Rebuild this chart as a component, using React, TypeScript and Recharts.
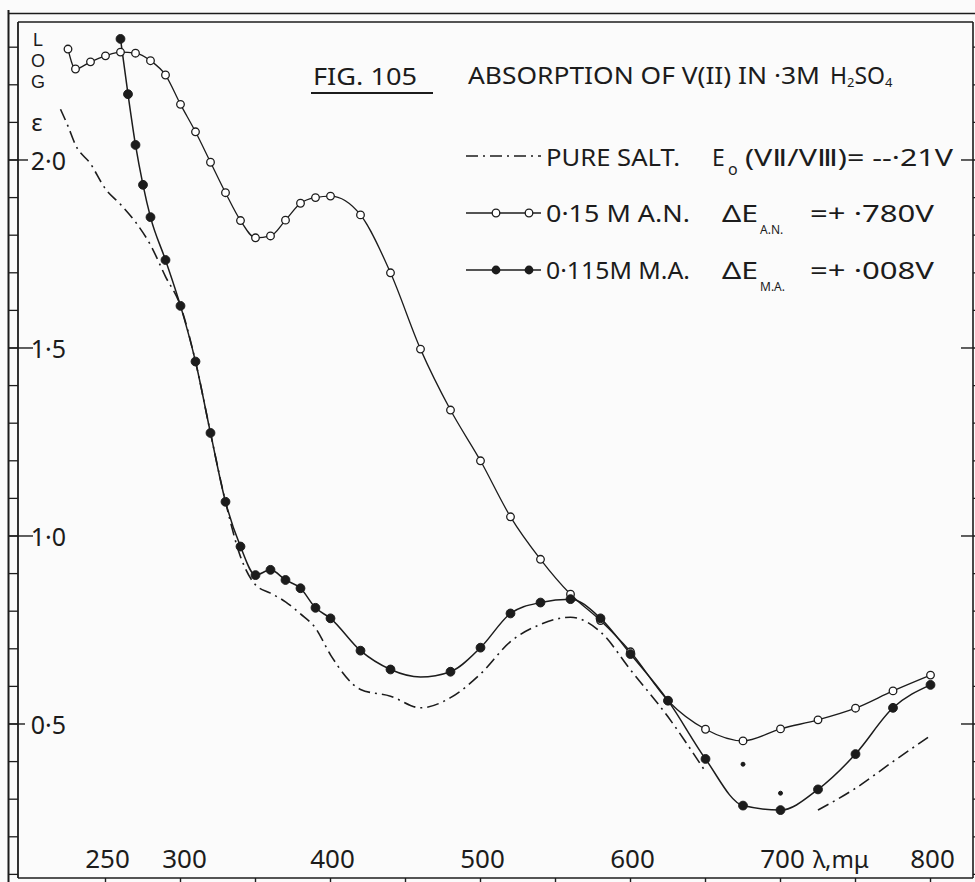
import React from 'react';
import { LineChart, Line, XAxis, YAxis } from 'recharts';

// ---------- data ----------
const xTicks = [250, 300, 350, 400, 450, 500, 550, 600, 650, 700, 750, 800];
const xTickLabels = [250, 300, 400, 500, 600, 700, 800];
const yTicks = [0.1, 0.2, 0.3, 0.4, 0.5, 0.6, 0.7, 0.8, 0.9, 1.0, 1.1, 1.2, 1.3, 1.4, 1.5, 1.6, 1.7, 1.8, 1.9, 2.0, 2.1, 2.2, 2.3];
const yTickLabels = [0.5, 1.0, 1.5, 2.0];
const yTickLabelText = ['0·5', '1·0', '1·5', '2·0'];

// 0·15 M A.N. (open circles)
const anWl = [225, 230, 240, 250, 260, 270, 280, 290, 300, 310, 320, 330, 340, 350, 360, 370, 380, 390, 400, 420, 440, 460, 480, 500, 520, 540, 560, 580, 600, 625, 650, 675, 700, 725, 750, 775, 800];
const anVal = [2.295, 2.242, 2.261, 2.277, 2.287, 2.284, 2.264, 2.226, 2.148, 2.075, 1.994, 1.913, 1.839, 1.793, 1.798, 1.84, 1.885, 1.9, 1.904, 1.854, 1.7, 1.497, 1.335, 1.2, 1.051, 0.938, 0.845, 0.775, 0.692, 0.562, 0.486, 0.455, 0.487, 0.511, 0.542, 0.588, 0.63];

// 0·115M M.A. (filled circles)
const maWl = [260, 265, 270, 275, 280, 290, 300, 310, 320, 330, 340, 350, 360, 370, 380, 390, 400, 420, 440, 460, 480, 500, 520, 540, 560, 580, 600, 625, 650, 675, 700, 725, 750, 775, 800];
const maVal = [2.322, 2.175, 2.04, 1.934, 1.848, 1.734, 1.612, 1.464, 1.274, 1.091, 0.972, 0.896, 0.91, 0.883, 0.861, 0.809, 0.781, 0.695, 0.645, 0.625, 0.639, 0.703, 0.794, 0.823, 0.832, 0.781, 0.686, 0.562, 0.407, 0.283, 0.271, 0.326, 0.42, 0.543, 0.604];
const maNoMarker = [460];

// pure salt (dash-dot)
const pureWl = [220, 225, 230, 240, 250, 260, 270, 280, 290, 300, 310, 320, 330, 340, 350, 360, 370, 380, 390, 400, 420, 440, 460, 480, 500, 520, 540, 560, 580, 600, 625, 650, 675, 700, 725, 750, 775, 800];
const pureVal: (number | null)[] = [2.135, 2.09, 2.04, 1.99, 1.923, 1.882, 1.835, 1.774, 1.69, 1.612, 1.464, 1.274, 1.091, 0.945, 0.87, 0.848, 0.825, 0.793, 0.755, 0.684, 0.592, 0.574, 0.543, 0.57, 0.633, 0.719, 0.765, 0.784, 0.745, 0.644, 0.519, 0.373, null, null, 0.271, 0.329, 0.4, 0.469];
const pureDotWl = [675, 700];
const pureDotVal = [0.393, 0.316];

const anData = anWl.map((x, i) => ({ x, y: anVal[i] }));
const maData = maWl.map((x, i) => ({ x, y: maVal[i], hidden: maNoMarker.includes(x) }));
const pureData = pureWl.map((x, i) => ({ x, y: pureVal[i] }));
const pureDotData = pureDotWl.map((x, i) => ({ x, y: pureDotVal[i] }));

// ---------- styling ----------
const W = 975;
const H = 882;
const INK = '#1c1c1c';
const FONT = "'Noto Sans', 'DejaVu Sans', sans-serif";
const X_DOMAIN: [number, number] = [191.67, 828.33];
const Y_DOMAIN: [number, number] = [0.0904, 2.367];
const PLOT_LEFT = 18;
const PLOT_RIGHT = 973;
const PLOT_BOTTOM = 878;

const BottomTick = (props: any) => {
  const { x, payload } = props;
  if (!xTickLabels.includes(payload.value)) return <g />;
  return (
    <text x={x + (payload.value === 300 ? 4 : 2)} y={PLOT_BOTTOM - 20} textAnchor="middle" dominantBaseline="central"
      fontFamily={FONT} fontSize={26} fill={INK}>
      {payload.value}
    </text>
  );
};

const LeftTick = (props: any) => {
  const { y, payload } = props;
  const i = yTickLabels.indexOf(payload.value);
  if (i < 0) return <g />;
  const tickEnd = i === 1 || i === 2 ? 33 : i === 0 ? 25 : 28;
  return (
    <g>
      <line x1={PLOT_LEFT - 10} x2={tickEnd} y1={y} y2={y} stroke={INK} strokeWidth={1.4} />
      <text x={66} y={y} textAnchor="end" dominantBaseline="central" fontFamily={FONT} fontSize={25} fill={INK}>
        {yTickLabelText[i]}
      </text>
    </g>
  );
};

const RightTick = (props: any) => {
  const { y, payload } = props;
  if (!yTickLabels.includes(payload.value)) return <g />;
  return <line x1={PLOT_RIGHT - 12} x2={PLOT_RIGHT} y1={y} y2={y} stroke={INK} strokeWidth={1.4} />;
};

const maDot = (props: any) => {
  const { cx, cy, payload, index } = props;
  if (cx == null || cy == null || payload.hidden) return <g key={`ma-${index}`} />;
  return <circle key={`ma-${index}`} cx={cx} cy={cy} r={4.4} fill={INK} stroke={INK} strokeWidth={1} />;
};

const Legend = () => {
  const t = { fontFamily: FONT, fontSize: 23, fill: INK, lengthAdjust: 'spacingAndGlyphs' } as const;
  const sub = { fontFamily: FONT, fontSize: 12, fill: INK } as const;
  const logFont = { fontFamily: "'Liberation Sans', Arial, sans-serif", fontSize: 18, fill: INK } as const;
  return (
    <svg width={W} height={H} style={{ position: 'absolute', left: 0, top: 0, pointerEvents: 'none' }}>
      {/* outer frame lines */}
      <line x1={8.5} y1={10} x2={8.5} y2={H} stroke={INK} strokeWidth={2} />
      <line x1={8} y1={13.5} x2={W} y2={13.5} stroke={INK} strokeWidth={1.6} />
      {/* LOG epsilon */}
      <text x={38} y={40} textAnchor="middle" dominantBaseline="central" {...logFont}>L</text>
      <text x={38} y={61} textAnchor="middle" dominantBaseline="central" {...logFont}>O</text>
      <text x={38} y={82} textAnchor="middle" dominantBaseline="central" {...logFont}>G</text>
      <text x={37} y={121} textAnchor="middle" dominantBaseline="central" fontFamily={FONT} fontSize={24} fill={INK}>ε</text>

      {/* title */}
      <text x={313} y={75} dominantBaseline="central" {...t} fontSize={24} textLength={104}>FIG. 105</text>
      <line x1={311} y1={93} x2={433} y2={93} stroke={INK} strokeWidth={2.2} />
      <text x={468} y={75} dominantBaseline="central" {...t} textLength={352}>ABSORPTION OF V(II) IN ·3M</text>
      <text x={830} y={75} dominantBaseline="central" fontFamily={FONT} fontSize={23} fill={INK}>
        H<tspan fontSize={13} dy={7}>2</tspan><tspan dy={-7}>SO</tspan><tspan fontSize={13} dy={7}>4</tspan>
      </text>

      {/* row 1: pure salt */}
      <line x1={466} y1={156} x2={541} y2={156} stroke={INK} strokeWidth={1.6} strokeDasharray="12 5 2 5" />
      <text x={546} y={157} dominantBaseline="central" {...t} textLength={134}>PURE SALT.</text>
      <text x={712} y={157} dominantBaseline="central" {...t}>E</text>
      <text x={728} y={169} dominantBaseline="central" fontFamily={FONT} fontSize={16} fill={INK}>o</text>
      <text x={745} y={157} dominantBaseline="central" {...t} textLength={208}>(VⅡ/VⅢ)= --·21V</text>

      {/* row 2: A.N. */}
      <line x1={466} y1={213} x2={541} y2={213} stroke={INK} strokeWidth={1.3} />
      <circle cx={496} cy={213} r={3.8} fill="#fff" stroke={INK} strokeWidth={1.3} />
      <circle cx={529} cy={213} r={3.8} fill="#fff" stroke={INK} strokeWidth={1.3} />
      <text x={546} y={213} dominantBaseline="central" {...t} textLength={144}>0·15 M  A.N.</text>
      <text x={722} y={213} dominantBaseline="central" {...t} textLength={36}>ΔE</text>
      <text x={760} y={229} dominantBaseline="central" {...sub}>A.N.</text>
      <text x={810} y={213} dominantBaseline="central" {...t} textLength={124}>=+ ·780V</text>

      {/* row 3: M.A. */}
      <line x1={466} y1={270} x2={541} y2={270} stroke={INK} strokeWidth={1.3} />
      <circle cx={496} cy={270} r={4.4} fill={INK} />
      <circle cx={529} cy={270} r={4.4} fill={INK} />
      <text x={546} y={270} dominantBaseline="central" {...t} textLength={144}>0·115M  M.A.</text>
      <text x={722} y={270} dominantBaseline="central" {...t} textLength={36}>ΔE</text>
      <text x={760} y={286} dominantBaseline="central" {...sub}>M.A.</text>
      <text x={810} y={270} dominantBaseline="central" {...t} textLength={124}>=+ ·008V</text>

      {/* axis unit */}
      <text x={813} y={858} dominantBaseline="central" fontFamily={FONT} fontSize={24} fill={INK}>λ,mμ</text>
    </svg>
  );
};

export default function App() {
  return (
    <div style={{ position: 'absolute', left: 0, top: 0, width: W, height: H, background: '#fbfbfb', overflow: 'hidden' }}>
      <LineChart width={W} height={H} margin={{ top: 0, right: 0, bottom: 0, left: 0 }}>
        <XAxis xAxisId="bottom" dataKey="x" type="number" orientation="bottom" domain={X_DOMAIN} allowDataOverflow
          ticks={xTicks} height={4} tickSize={6} interval={0}
          axisLine={{ stroke: INK, strokeWidth: 1.6 }} tickLine={{ stroke: INK, strokeWidth: 1.4 }} tick={<BottomTick />} />
        <XAxis xAxisId="top" dataKey="x" type="number" orientation="top" domain={X_DOMAIN} allowDataOverflow
          ticks={xTicks} height={22} tickSize={8} interval={0}
          axisLine={{ stroke: INK, strokeWidth: 1.6 }} tickLine={{ stroke: INK, strokeWidth: 1.4 }} tick={false} />
        <YAxis yAxisId="left" type="number" orientation="left" domain={Y_DOMAIN} allowDataOverflow
          ticks={yTicks} width={18} tickSize={10} interval={0}
          axisLine={{ stroke: INK, strokeWidth: 1.8 }} tickLine={{ stroke: INK, strokeWidth: 1.3 }} tick={<LeftTick />} />
        <YAxis yAxisId="right" type="number" orientation="right" domain={Y_DOMAIN} allowDataOverflow
          ticks={yTicks} width={2} tickSize={4} interval={0}
          axisLine={{ stroke: INK, strokeWidth: 1.6 }} tickLine={{ stroke: INK, strokeWidth: 1.3 }} tick={<RightTick />} />

        <Line xAxisId="bottom" yAxisId="left" data={pureData} dataKey="y" type="monotone" stroke={INK}
          strokeWidth={1.6} strokeDasharray="12 5 2 5" dot={false} isAnimationActive={false} connectNulls={false} />
        <Line xAxisId="bottom" yAxisId="left" data={pureDotData} dataKey="y" stroke="none"
          dot={{ r: 2, fill: INK, stroke: INK }} isAnimationActive={false} />
        <Line xAxisId="bottom" yAxisId="left" data={anData} dataKey="y" type="monotone" stroke={INK}
          strokeWidth={1.3} dot={{ r: 3.8, fill: '#fff', stroke: INK, strokeWidth: 1.3 }} isAnimationActive={false} />
        <Line xAxisId="bottom" yAxisId="left" data={maData} dataKey="y" type="monotone" stroke={INK}
          strokeWidth={1.5} dot={maDot} isAnimationActive={false} />
      </LineChart>
      <Legend />
    </div>
  );
}
